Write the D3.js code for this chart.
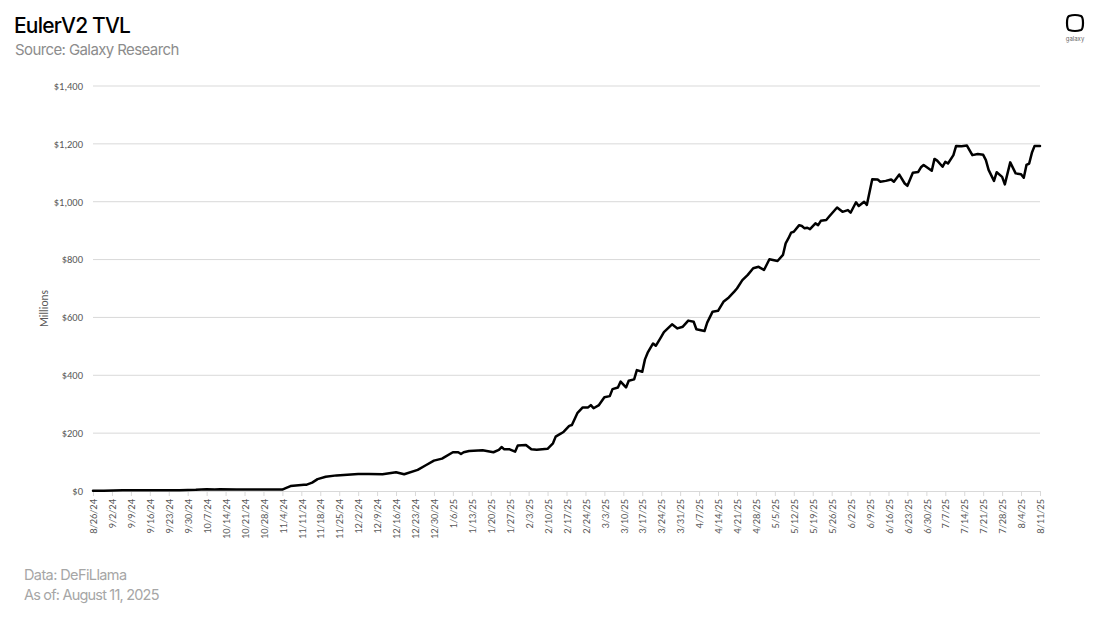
<!DOCTYPE html>
<html>
<head>
<meta charset="utf-8">
<script src="https://cdn.jsdelivr.net/npm/d3@7"></script>
<style>
  html, body { margin: 0; padding: 0; background: #fff; }
  svg { display: block; }
</style>
</head>
<body>
<svg id="chart" width="1100" height="618"></svg>
<script>
// ---- data (millions USD) ----
const dates = [
  "2024-08-26","2024-08-30","2024-09-06","2024-09-27","2024-10-03","2024-10-07","2024-10-10","2024-10-12",
  "2024-10-18","2024-11-04","2024-11-05","2024-11-07","2024-11-12","2024-11-13","2024-11-15","2024-11-17",
  "2024-11-20","2024-11-24","2024-12-02","2024-12-06","2024-12-11","2024-12-16","2024-12-19","2024-12-24",
  "2024-12-27","2024-12-30","2025-01-02","2025-01-06","2025-01-08","2025-01-09","2025-01-10","2025-01-12",
  "2025-01-17","2025-01-21","2025-01-23","2025-01-24","2025-01-25","2025-01-27","2025-01-29","2025-01-30",
  "2025-02-02","2025-02-04","2025-02-06","2025-02-10","2025-02-12","2025-02-13","2025-02-15","2025-02-16",
  "2025-02-18","2025-02-19","2025-02-21","2025-02-23","2025-02-25","2025-02-26","2025-02-27","2025-03-01",
  "2025-03-03","2025-03-05","2025-03-06","2025-03-08","2025-03-09","2025-03-11","2025-03-12","2025-03-14",
  "2025-03-15","2025-03-17","2025-03-18","2025-03-19","2025-03-21","2025-03-22","2025-03-24","2025-03-25",
  "2025-03-28","2025-03-30","2025-04-01","2025-04-03","2025-04-05","2025-04-06","2025-04-09","2025-04-10",
  "2025-04-12","2025-04-14","2025-04-16","2025-04-18","2025-04-20","2025-04-21","2025-04-23","2025-04-25",
  "2025-04-27","2025-04-29","2025-05-01","2025-05-03","2025-05-06","2025-05-08","2025-05-09","2025-05-10",
  "2025-05-11","2025-05-12","2025-05-14","2025-05-15","2025-05-16","2025-05-17","2025-05-18","2025-05-20",
  "2025-05-21","2025-05-22","2025-05-24","2025-05-25","2025-05-28","2025-05-30","2025-06-01","2025-06-02",
  "2025-06-04","2025-06-05","2025-06-07","2025-06-08","2025-06-10","2025-06-12","2025-06-13","2025-06-15",
  "2025-06-17","2025-06-18","2025-06-20","2025-06-22","2025-06-23","2025-06-25","2025-06-27","2025-06-28",
  "2025-06-29","2025-07-02","2025-07-03","2025-07-04","2025-07-06","2025-07-07","2025-07-08","2025-07-10",
  "2025-07-11","2025-07-13","2025-07-15","2025-07-17","2025-07-19","2025-07-21","2025-07-22","2025-07-23",
  "2025-07-25","2025-07-26","2025-07-28","2025-07-29","2025-07-31","2025-08-02","2025-08-04","2025-08-05",
  "2025-08-06","2025-08-07","2025-08-08","2025-08-09","2025-08-11"
];
const tvl = [
  1,1,3,3,4,6,5,6,
  5,5,9,17,22,22,29,41,
  49,54,59,59,58,65,58,73,
  89,105,112,134,134,128,134,138,
  141,134,142,152,144,144,136,157,
  159,144,143,146,165,188,199,205,
  225,228,269,289,289,297,286,297,
  324,328,352,358,378,358,381,386,
  418,412,455,478,510,502,533,549,
  576,562,568,589,585,559,553,582,
  620,623,654,669,689,700,729,747,
  770,775,764,801,795,816,856,873,
  893,896,919,916,908,910,905,925,
  919,934,937,948,980,965,971,962,
  998,985,1000,989,1078,1077,1069,1072,
  1077,1069,1094,1063,1055,1100,1103,1119,
  1127,1107,1148,1142,1121,1138,1132,1161,
  1193,1192,1194,1161,1165,1162,1144,1110,
  1072,1102,1086,1060,1136,1098,1095,1083,
  1127,1132,1169,1193,1193
];
const yTicks = [0, 200, 400, 600, 800, 1000, 1200, 1400];
const xTickStart = "2024-08-26";
const xTickEnd = "2025-08-11";

const title = "EulerV2 TVL";
const subtitle = "Source: Galaxy Research";
const yTitle = "Millions";
const footer1 = "Data: DeFiLlama";
const footer2 = "As of: August 11, 2025";

// ---- drawing ----
const parse = d3.utcParse("%Y-%m-%d");
const data = dates.map((d, i) => ({ date: parse(d), value: tvl[i] }));

const svg = d3.select("#chart");
const margin = { left: 93, right: 1040, top: 86, bottom: 491 };

const x = d3.scaleUtc()
  .domain([parse(xTickStart), parse(xTickEnd)])
  .range([margin.left, margin.right]);
const y = d3.scaleLinear().domain([0, 1400]).range([margin.bottom, margin.top]);

const axisFont = "Calibri, Carlito, 'Liberation Sans', Arial, sans-serif";
const brandFont = "Inter, 'Noto Sans', sans-serif";

// gridlines
svg.append("g")
  .selectAll("line")
  .data(yTicks.filter(v => v > 0))
  .join("line")
  .attr("x1", margin.left).attr("x2", margin.right)
  .attr("y1", d => y(d)).attr("y2", d => y(d))
  .attr("stroke", "#d9d9d9").attr("stroke-width", 1);

// y axis labels
const yAxis = d3.axisLeft(y).tickValues(yTicks).tickSize(0).tickPadding(10)
  .tickFormat(d => "$" + d3.format(",")(d));
const gy = svg.append("g").attr("transform", `translate(${margin.left},0)`).call(yAxis);
gy.select(".domain").remove();
gy.selectAll("text").attr("fill", "#595959").style("font-size", "10.5px").style("font-family", axisFont);

// x axis (weekly Monday ticks)
const xAxis = d3.axisBottom(x)
  .tickValues(d3.utcMonday.range(parse(xTickStart), d3.utcDay.offset(parse(xTickEnd), 1)))
  .tickSize(5).tickFormat(d3.utcFormat("%-m/%-d/%y"));
const gx = svg.append("g").attr("transform", `translate(0,${margin.bottom})`).call(xAxis);
gx.select(".domain").attr("stroke", "#d9d9d9");
gx.selectAll(".tick line").attr("stroke", "#d9d9d9");
gx.selectAll("text")
  .attr("fill", "#595959")
  .style("font-size", "10.5px").style("font-family", axisFont)
  .attr("transform", "rotate(-90)")
  .attr("text-anchor", "end")
  .attr("x", -8).attr("y", 0).attr("dy", "0.35em");

// y title
svg.append("text")
  .attr("transform", `translate(48,${(margin.top + margin.bottom) / 2 + 20}) rotate(-90)`)
  .attr("text-anchor", "middle")
  .attr("fill", "#595959")
  .style("font-size", "11.5px").style("font-family", axisFont)
  .text(yTitle);

// line
const line = d3.line().x(d => x(d.date)).y(d => y(d.value));
svg.append("path")
  .datum(data)
  .attr("d", line)
  .attr("fill", "none")
  .attr("stroke", "#000")
  .attr("stroke-width", 2.5)
  .attr("stroke-linejoin", "round")
  .attr("stroke-linecap", "round");

// titles
svg.append("text").attr("x", 14).attr("y", 33)
  .style("font-family", brandFont).style("font-size", "21px").style("font-weight", 500)
  .style("letter-spacing", "-0.8px").attr("fill", "#000").text(title);
svg.append("text").attr("x", 15).attr("y", 55)
  .style("font-family", brandFont).style("font-size", "15px")
  .style("letter-spacing", "-0.6px").attr("fill", "#8c8c8c").text(subtitle);

// footer
svg.append("text").attr("x", 24).attr("y", 580)
  .style("font-family", brandFont).style("font-size", "14.5px")
  .style("letter-spacing", "-0.6px").attr("fill", "#a6a6a6").text(footer1);
svg.append("text").attr("x", 24).attr("y", 600)
  .style("font-family", brandFont).style("font-size", "14.5px")
  .style("letter-spacing", "-0.8px").attr("fill", "#a6a6a6").text(footer2);

// logo
const logo = svg.append("g").attr("transform", "translate(1075,23)");
logo.append("path")
  .attr("d", "M-6,-7 Q0,-9 6,-7 Q8,-6 8,0 Q8,6 6,7 Q0,9 -6,7 Q-8,6 -8,0 Q-8,-6 -6,-7 Z")
  .attr("fill", "none").attr("stroke", "#000").attr("stroke-width", 2.2);
logo.append("text").attr("x", 0).attr("y", 18).attr("text-anchor", "middle")
  .style("font-family", brandFont).style("font-size", "6px").attr("fill", "#666").text("galaxy");
</script>
</body>
</html>
